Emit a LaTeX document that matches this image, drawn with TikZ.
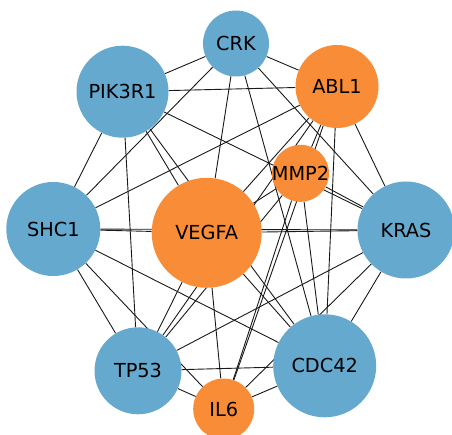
\documentclass[tikz,border=0pt]{standalone}
\usepackage{fontspec}
\setmainfont{DejaVu Sans}
\definecolor{cblue}{HTML}{66A9CE}
\definecolor{corange}{HTML}{F98C37}
\pgfdeclarelayer{bg}
\pgfsetlayers{bg,main}
\begin{document}
\begin{tikzpicture}[x=1pt,y=-1pt,
  gene/.style={circle,inner sep=0pt,minimum size=#1,font=\fontsize{19.3}{22}\selectfont,text=black},
  bnode/.style={gene=#1,fill=cblue},
  onode/.style={gene=#1,fill=corange},
  edge/.style={line width=0.9pt,black!90}]
\useasboundingbox (0,0) rectangle (452,435);
\node[bnode=66pt]  (CRK)    at (236,43.5)  {\makebox[0pt]{CRK}};
\node[onode=83pt]  (ABL1)   at (337,86.5)  {\makebox[0pt]{ABL1}};
\node[bnode=92pt]  (PIK3R1) at (122.5,91.7){\makebox[0pt]{PIK3R1}};
\node[onode=57pt]  (MMP2)   at (300.5,173.3){\makebox[0pt]{MMP2}};
\node[onode=110pt] (VEGFA)  at (206.7,232.8){\makebox[0pt]{VEGFA}};
\node[bnode=94pt]  (SHC1)   at (53.3,229)  {\makebox[0pt]{SHC1}};
\node[bnode=97pt]  (KRAS)   at (406,230)   {\makebox[0pt]{KRAS}};
\node[bnode=87pt]  (TP53)   at (138,370.8) {\makebox[0pt]{TP53}};
\node[bnode=103pt] (CDC42)  at (324.7,365.8){\makebox[0pt]{CDC42}};
\node[onode=61pt]  (IL6)    at (223.7,409) {\makebox[0pt]{IL6}};
\begin{pgfonlayer}{bg}
\foreach \a/\b in {CRK/ABL1,CRK/PIK3R1,CRK/SHC1,CRK/VEGFA,CRK/CDC42,CRK/KRAS,
  PIK3R1/ABL1,PIK3R1/KRAS,PIK3R1/VEGFA,PIK3R1/CDC42,PIK3R1/SHC1,PIK3R1/TP53,
  ABL1/SHC1,ABL1/MMP2,ABL1/VEGFA,ABL1/TP53,ABL1/IL6,ABL1/CDC42,ABL1/KRAS,
  MMP2/VEGFA,MMP2/KRAS,MMP2/TP53,MMP2/IL6,MMP2/CDC42,
  VEGFA/SHC1,VEGFA/KRAS,VEGFA/TP53,VEGFA/IL6,VEGFA/CDC42,
  SHC1/KRAS,SHC1/TP53,SHC1/IL6,SHC1/CDC42,
  KRAS/TP53,KRAS/CDC42,KRAS/IL6,
  TP53/CDC42,TP53/IL6,CDC42/IL6}
  \draw[edge] (\a) -- (\b);
\end{pgfonlayer}
\end{tikzpicture}
\end{document}
